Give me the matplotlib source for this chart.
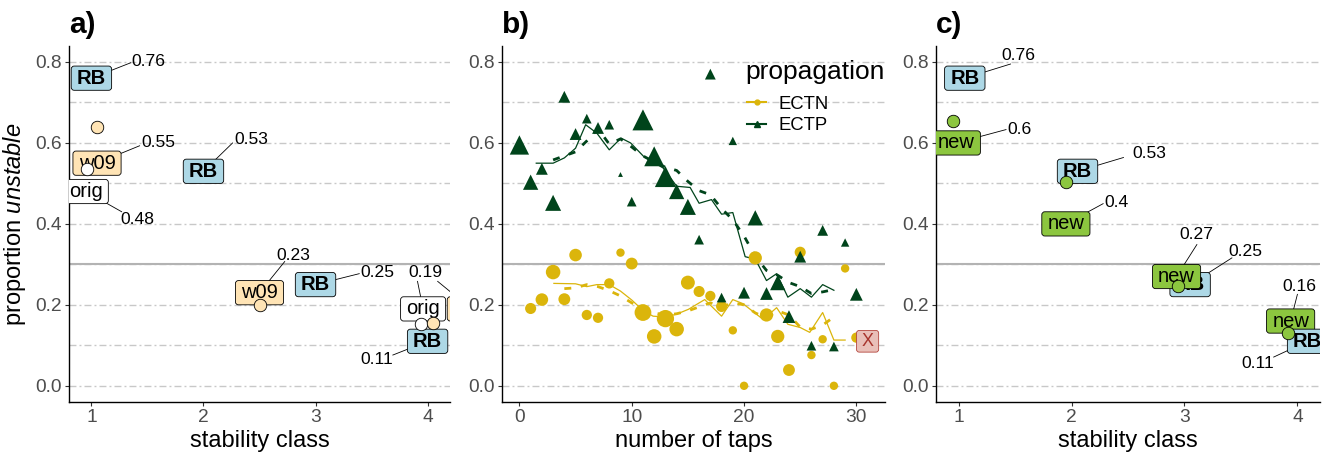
import numpy as np
import matplotlib
matplotlib.use('Agg')
import matplotlib.pyplot as plt
from matplotlib.lines import Line2D
from matplotlib.patches import BoxStyle
from matplotlib.ticker import FormatStrFormatter

plt.rcParams['font.family'] = 'Liberation Sans'
plt.rcParams['mathtext.fontset'] = 'custom'
plt.rcParams['mathtext.rm'] = 'Liberation Sans'
plt.rcParams['mathtext.it'] = 'Liberation Sans:italic'

# --- data -------------------------------------------------------------
classes = [1, 2, 3, 4]
rb_vals = [0.76, 0.53, 0.25, 0.11]

# panel a
orig_classes = [1, 4]
orig_vals = [0.48, 0.19]
w09_classes = [1, 2.5, 4]
w09_vals = [0.55, 0.23, 0.19]
orig_pt_x = [0.96, 3.94]
orig_pt_y = [0.535, 0.152]
w09_pt_x = [1.05, 2.5, 4.05]
w09_pt_y = [0.64, 0.20, 0.156]

# panel c
new_vals = [0.6, 0.4, 0.27, 0.16]
new_pt_x = [0.953, 1.95, 2.94, 3.915]
new_pt_y = [0.655, 0.504, 0.246, 0.131]

# panel b
taps_ectp = list(range(0, 31))
ectp_prop = [0.595, 0.503, 0.536, 0.452, 0.714, 0.622, 0.66, 0.637, 0.645, 0.522,
             0.455, 0.657, 0.567, 0.517, 0.48, 0.442, 0.361, 0.77, 0.218, 0.605,
             0.23, 0.415, 0.228, 0.255, 0.171, 0.319, 0.099, 0.384, 0.097, 0.354, 0.226]
ectp_n = [16, 10, 6, 11, 6, 6, 4, 6, 4, 1, 4, 19, 17, 19, 10, 11, 4, 5, 4, 3,
          6, 10, 7, 10, 7, 6, 4, 5, 4, 3, 7]
taps_ectn = list(range(1, 31))
ectn_prop = [0.191, 0.213, 0.281, 0.214, 0.323, 0.175, 0.168, 0.253, 0.329, 0.302,
             0.181, 0.122, 0.166, 0.14, 0.255, 0.233, 0.222, 0.196, 0.137, 0.0,
             0.316, 0.175, 0.122, 0.039, 0.33, 0.076, 0.115, 0.0, 0.29, 0.119]
ectn_n = [7, 9, 12, 8, 9, 6, 6, 6, 4, 8, 16, 12, 17, 12, 11, 7, 6, 7, 4, 4,
          10, 10, 10, 8, 7, 4, 4, 4, 4, 6]

# running means (solid) and smoothed (dashed)
ectp_roll_x = [1.5, 3.0, 4.0, 5.0, 5.9, 6.9, 8.0, 9.05, 9.9, 11.05, 12.8, 14.0, 15.2,
               16.0, 17.1, 18.0, 19.0, 20.1, 21.0, 22.0, 22.9, 23.9, 25.0, 26.0, 27.0, 28.0]
ectp_roll_y = [0.55, 0.55, 0.563, 0.587, 0.645, 0.624, 0.583, 0.612, 0.60, 0.567, 0.538,
               0.493, 0.49, 0.451, 0.46, 0.424, 0.428, 0.319, 0.313, 0.26, 0.277, 0.219,
               0.24, 0.219, 0.25, 0.236]
ectp_smooth_x = list(range(3, 29))
ectp_smooth_y = [0.558, 0.568, 0.578, 0.605, 0.635, 0.597, 0.61, 0.59, 0.568, 0.553,
                 0.54, 0.532, 0.505, 0.482, 0.472, 0.438, 0.41, 0.37, 0.32, 0.285,
                 0.273, 0.255, 0.245, 0.228, 0.232, 0.238]
ectn_roll_x = [3.07, 5.0, 6.0, 6.9, 8.0, 9.0, 10.0, 11.05, 11.9, 13.0, 14.0, 15.05, 16.5,
               18.0, 19.0, 19.9, 21.7, 22.9, 23.9, 25.0, 25.85, 27.0, 28.0, 29.0]
ectn_roll_y = [0.253, 0.252, 0.245, 0.25, 0.25, 0.234, 0.212, 0.185, 0.172, 0.17, 0.177,
               0.189, 0.213, 0.172, 0.213, 0.203, 0.164, 0.193, 0.152, 0.144, 0.132,
               0.181, 0.113, 0.113]
ectn_smooth_x = list(range(4, 29))
ectn_smooth_y = [0.24, 0.242, 0.25, 0.245, 0.235, 0.222, 0.205, 0.19, 0.18, 0.175, 0.178,
                 0.185, 0.195, 0.205, 0.195, 0.205, 0.2, 0.18, 0.168, 0.185, 0.175,
                 0.145, 0.14, 0.15, 0.17]
flag_tap = [31]
flag_prop = [0.11]
flag_text = ['X']

threshold = 0.3

# --- label layout (repelled positions) -------------------------------
rb_a_dx = [0, 0, 0, 0]
rb_a_text = [(1.51, 0.80), (2.43, 0.608), (3.55, 0.279), (3.55, 0.066)]
rb_a_seg = [(1.35, 0.798), (2.26, 0.60), (3.39, 0.277), (3.69, 0.076)]
orig_dx = [-0.05, -0.04]
orig_text = [(1.41, 0.412), (3.98, 0.279)]
orig_seg = [(1.27, 0.43), (3.91, 0.258)]
w09_dx = [0.05, 0, 0.39]
# last w09 value shares the "0.19" text with orig, only its segment is drawn
w09_text = [(1.595, 0.60), (2.805, 0.322), None]
w09_seg = [(1.43, 0.593), (2.725, 0.307), (4.09, 0.258)]

rb_c_dx = [0.055, 0.053, 0.05, 0.09]
rb_c_text = [(1.53, 0.815), (2.69, 0.575), (3.54, 0.333), (3.65, 0.056)]
rb_c_seg = [(1.46, 0.795), (2.46, 0.564), (3.42, 0.316), (3.79, 0.071)]
rb_c_z = [3.0, 3.0, 3.0, 3.6]
new_dx = [-0.02, -0.05, -0.07, -0.06]
new_text = [(1.535, 0.633), (2.40, 0.454), (3.106, 0.374), (4.02, 0.245)]
new_seg = [(1.42, 0.633), (2.28, 0.45), (3.11, 0.349), (4.0, 0.226)]
new_z = [3.5, 3.5, 3.5, 3.4]

# --- styles -----------------------------------------------------------
GOLD = '#DBB50B'
DKGREEN = '#00441B'
BLUE = '#ADD8E6'
BEIGE = '#FFE4B5'
GREEN = '#8CC63F'
GRID = '#C8C8C8'


def box_style(px=0.28, py=0.13, r=0.15):
    rnd = BoxStyle.Round(pad=0, rounding_size=r)

    def style(x0, y0, w, h, ms):
        return rnd(x0 - px * ms, y0 - py * ms, w + 2 * px * ms, h + 2 * py * ms, ms)
    return style


def box_label(ax, x, y, txt, fc, bold=False, z=3, fs=14.5, color='black', ec='black'):
    ax.text(x, y, txt, ha='center', va='center', fontsize=fs, color=color,
            fontweight='bold' if bold else 'normal', zorder=z, clip_on=True,
            bbox=dict(boxstyle=box_style(), fc=fc, ec=ec, lw=0.6))


def value_label(ax, x, y, val, txt_xy, seg_xy):
    ax.plot([seg_xy[0], x], [seg_xy[1], y], color='black', lw=0.6, zorder=2)
    if txt_xy is not None:
        ax.text(txt_xy[0], txt_xy[1], f'{val:g}', ha='center', va='center',
                fontsize=12.6, zorder=2.5)


def style_axes(ax, title):
    ax.set_ylim(-0.04, 0.84)
    ax.set_yticks([0, 0.2, 0.4, 0.6, 0.8])
    ax.set_yticks([0.1, 0.3, 0.5, 0.7], minor=True)
    ax.yaxis.set_major_formatter(FormatStrFormatter('%.1f'))
    ax.grid(axis='y', which='both', color=GRID, lw=1.0,
            linestyle=(0, (5, 2.2, 1.4, 2.2)), zorder=0)
    ax.set_axisbelow(True)
    ax.axhline(threshold, color='#B3B3B3', lw=1.5, zorder=1.5)
    for s in ['top', 'right']:
        ax.spines[s].set_visible(False)
    for s in ['left', 'bottom']:
        ax.spines[s].set_linewidth(1.0)
        ax.spines[s].set_color('black')
    ax.tick_params(which='major', length=3, width=0.8, color='#333333',
                   labelsize=13.8, labelcolor='#4D4D4D', pad=2)
    ax.tick_params(which='minor', length=0)
    ax.set_title(title, loc='left', fontsize=21.5, fontweight='bold', pad=9)


fig = plt.figure(figsize=(13.26, 4.53), dpi=100)
bot, hgt = 0.1126, 0.7863
ax_a = fig.add_axes([0.05204, bot, 0.28733, hgt])
ax_b = fig.add_axes([0.37858, bot, 0.28884, hgt])
ax_c = fig.add_axes([0.70588, bot, 0.28959, hgt])

# --- panel a ----------------------------------------------------------
style_axes(ax_a, 'a)')
ax_a.set_xlim(0.8, 4.2)
ax_a.set_xticks(classes)
for i, v in enumerate(rb_vals):
    bx = classes[i] + rb_a_dx[i]
    value_label(ax_a, bx, v, v, rb_a_text[i], rb_a_seg[i])
    box_label(ax_a, bx, v, 'RB', BLUE, bold=True, z=3)
for i, v in enumerate(orig_vals):
    bx = orig_classes[i] + orig_dx[i]
    value_label(ax_a, bx, v, v, orig_text[i], orig_seg[i])
    box_label(ax_a, bx, v, 'orig', 'white', z=3.2)
for i, v in enumerate(w09_vals):
    bx = w09_classes[i] + w09_dx[i]
    value_label(ax_a, bx, v, v, w09_text[i], w09_seg[i])
    box_label(ax_a, bx, v, 'w09', BEIGE, z=3.3)
ax_a.scatter(orig_pt_x, orig_pt_y, s=81, fc='white', ec='black', lw=0.6, zorder=5)
ax_a.scatter(w09_pt_x, w09_pt_y, s=81, fc=BEIGE, ec='black', lw=0.6, zorder=5)
ax_a.set_xlabel('stability class', fontsize=17, labelpad=3)
ax_a.set_ylabel('proportion $\\mathit{unstable}$', fontsize=17, labelpad=5)

# --- panel b ----------------------------------------------------------
style_axes(ax_b, 'b)')
ax_b.set_xlim(-1.55, 32.55)
ax_b.set_xticks([0, 10, 20, 30])
ax_b.plot(ectn_roll_x, ectn_roll_y, color=GOLD, lw=0.9, zorder=2)
ax_b.plot(ectn_smooth_x, ectn_smooth_y, color=GOLD, lw=2.0, ls=(0, (2.5, 3.5)), zorder=2)
ax_b.plot(ectp_roll_x, ectp_roll_y, color=DKGREEN, lw=0.9, zorder=2)
ax_b.plot(ectp_smooth_x, ectp_smooth_y, color=DKGREEN, lw=2.0, ls=(0, (2.5, 3.5)), zorder=2)
ax_b.scatter(taps_ectn, ectn_prop, s=9.1 * np.array(ectn_n), marker='o',
             color=GOLD, lw=0, zorder=3)
ax_b.scatter(taps_ectp, ectp_prop, s=12.1 * np.array(ectp_n), marker='^',
             color=DKGREEN, lw=0, zorder=4)
for i, t in enumerate(flag_text):
    box_label(ax_b, flag_tap[i], flag_prop[i], t, '#E9BFB8', fs=13,
              color='#A8342C', ec='#B4463E', z=5)
ax_b.set_xlabel('number of taps', fontsize=17, labelpad=3)
ax_b.text(0.6345, 0.927, 'propagation', transform=ax_b.transAxes, fontsize=19,
          ha='left', va='center')
handles = [Line2D([], [], color=GOLD, lw=1.5, marker='o', ms=3.5),
           Line2D([], [], color=DKGREEN, lw=1.5, marker='^', ms=4)]
ax_b.legend(handles, ['ECTN', 'ECTP'], loc='center left', bbox_to_anchor=(0.6397, 0.806),
            frameon=False, borderpad=0, borderaxespad=0, handlelength=1.03,
            handletextpad=0.7, labelspacing=0.23, fontsize=13.3)

# --- panel c ----------------------------------------------------------
style_axes(ax_c, 'c)')
ax_c.set_xlim(0.8, 4.2)
ax_c.set_xticks(classes)
for i, v in enumerate(rb_vals):
    bx = classes[i] + rb_c_dx[i]
    value_label(ax_c, bx, v, v, rb_c_text[i], rb_c_seg[i])
    box_label(ax_c, bx, v, 'RB', BLUE, bold=True, z=rb_c_z[i])
for i, v in enumerate(new_vals):
    bx = classes[i] + new_dx[i]
    value_label(ax_c, bx, v, v, new_text[i], new_seg[i])
    box_label(ax_c, bx, v, 'new', GREEN, z=new_z[i])
ax_c.scatter(new_pt_x, new_pt_y, s=81, fc=GREEN, ec='black', lw=0.6, zorder=5)
ax_c.set_xlabel('stability class', fontsize=17, labelpad=3)

fig.savefig('out.png', dpi=100)
